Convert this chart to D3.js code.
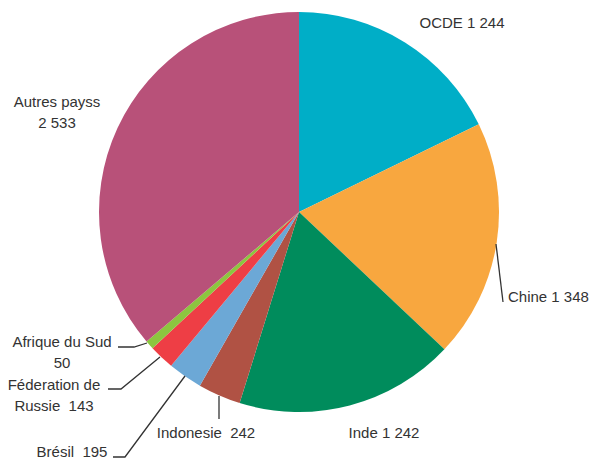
<!DOCTYPE html>
<html><head><meta charset="utf-8">
<script src="https://cdn.jsdelivr.net/npm/d3@7"></script>
<style>body{margin:0;background:#fff}svg{display:block}text{font-family:"Liberation Sans",Arial,sans-serif;font-size:15px;fill:#333;white-space:pre}</style>
</head><body>
<script>
const categories = ["OCDE","Chine","Inde","Indonesie","Brésil","Féderation de Russie","Afrique du Sud","Autres payss"];
const values = [1244,1348,1242,242,195,143,50,2533];
const colors = ["#00AEC7","#F8A73F","#008C5C","#B05244","#6CA8D6","#EE3E45","#8CC63F","#B85179"];
const labels = [
  {lines:["OCDE 1 244"], x:462, y:28, anchor:"middle"},
  {lines:["Chine 1 348"], x:508, y:302, anchor:"start"},
  {lines:["Inde 1 242"], x:384, y:438, anchor:"middle"},
  {lines:["Indonesie  242"], x:206, y:438, anchor:"middle"},
  {lines:["Brésil  195"], x:72, y:457, anchor:"middle"},
  {lines:["Féderation de","Russie  143"], x:54, y:390, anchor:"middle"},
  {lines:["Afrique du Sud","50"], x:62, y:347, anchor:"middle"},
  {lines:["Autres payss","2 533"], x:57, y:107, anchor:"middle"}
];
const leaders = [
  [[496,244],[503,302]],
  null,null,
  [[219,396],[219,419]],
  [[113,457],[125,457],[185,376]],
  [[108,389],[121,389],[160,357]],
  [[118,347],[134,347],[147,343]],
  null
];
const W=592,H=461,cx=299,cy=212,r=200;
const svg=d3.select("body").append("svg").attr("width",W).attr("height",H);
const pie=d3.pie().sort(null).value(d=>d)(values);
const arc=d3.arc().innerRadius(0).outerRadius(r);
const g=svg.append("g").attr("transform",`translate(${cx},${cy})`);
g.selectAll("path").data(pie).join("path").attr("d",arc).attr("fill",(d,i)=>colors[i]);
const line=d3.line();
leaders.forEach(l=>{ if(l) svg.append("path").attr("d",line(l)).attr("fill","none").attr("stroke","#333").attr("stroke-width",1.3);});
labels.forEach(lb=>{
  const t=svg.append("text").attr("text-anchor",lb.anchor).attr("xml:space","preserve");
  lb.lines.forEach((s,j)=>t.append("tspan").attr("x",lb.x).attr("y",lb.y+j*21).text(s));
});
</script>
</body></html>
